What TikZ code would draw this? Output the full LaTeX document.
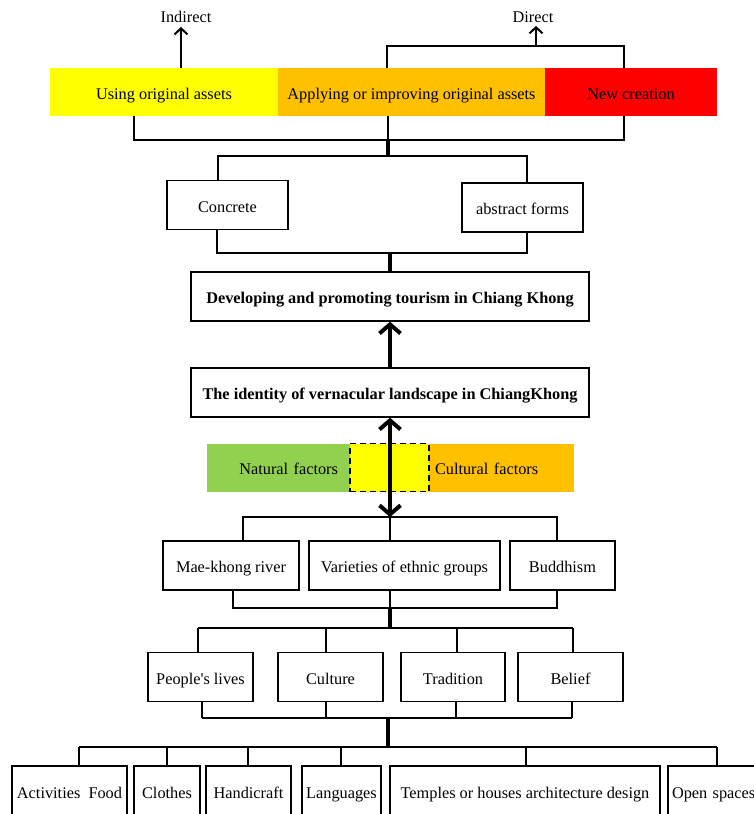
\documentclass[tikz,border=0pt]{standalone}
\usepackage{fontspec}
\setmainfont{Liberation Serif}
\usetikzlibrary{arrows.meta, positioning}
\definecolor{tyellow}{HTML}{FFFF00}
\definecolor{torange}{HTML}{FFC000}
\definecolor{tred}{HTML}{FF0000}
\definecolor{tgreen}{HTML}{92D050}
\tikzset{box/.style={draw, line width=1.5pt, minimum height=49, inner sep=0pt, text height=15pt, text depth=1pt},
    band/.style={minimum height=48, inner sep=0pt, text height=15pt, text depth=1pt},
    link/.style={line width=1.3pt},
    trunk/.style={line width=4pt},
    thinarrow/.style={line width=2pt, -{Straight Barb[length=6pt,width=13pt]}},
    bigarrow/.style={line width=4pt, -{Straight Barb[length=9pt,width=21pt]}},
    dblarrow/.style={line width=4pt, {Straight Barb[length=9pt,width=21pt]}-{Straight Barb[length=9pt,width=21pt]}}}

\begin{document}
\begin{tikzpicture}[x=1pt, y=-1pt, font=\fontsize{16.3}{19}\selectfont]
        \useasboundingbox (0,0) rectangle (754,814);
        \clip (0,0) rectangle (754,814);

        % ways of use
        \node[band, fill=tyellow, minimum width=228] (using) at (164,92) {Using original assets};
        \node[band, fill=torange, minimum width=267] (apply) at (411.5,92) {Applying or improving original assets};
        \node[band, fill=tred, minimum width=172] (newc) at (631,92) {New creation};
        \node (indirect) at (186,17) {Indirect};
        \node (direct) at (533,17) {Direct};

        \coordinate (ind) at (181,27);
        \draw[thinarrow] (using.north -| ind) -- (ind);
        \coordinate (dirl) at (387,46);
        \coordinate (dirr) at (624,46);
        \coordinate (dirm) at (536,46);
        \draw[link] (apply.north -| dirl) -- (dirl) -- (dirr) -- (newc.north -| dirr);
        \draw[thinarrow] (dirm) -- (direct.south -| dirm);

        % forms
        \node[box, minimum width=121] (concrete) at (227.5,205) {Concrete};
        \node[box, minimum width=121] (abstract) at (522.5,207.5) {abstract forms};
        \node[box, minimum width=398, font=\fontsize{16.3}{19}\selectfont\bfseries] (developing) at (390,296.5) {Developing and promoting tourism in Chiang Khong};
        \node[box, minimum width=398, font=\fontsize{16.3}{19}\selectfont\bfseries] (identity) at (390,392.5) {The identity of vernacular landscape in ChiangKhong};

        \coordinate (outl) at (134,140);
        \coordinate (outr) at (624,140);
        \coordinate (outm) at (388,140);
        \draw[link] (using.south -| outl) -- (outl) -- (outr) -- (newc.south -| outr);
        \draw[link] (apply.south -| outm) -- (outm);
        \coordinate (forml) at (218,156);
        \coordinate (formr) at (527,156);
        \draw[trunk] (outm) -- (outm |- forml);
        \draw[link] (concrete.north -| forml) -- (forml) -- (formr) -- (abstract.north -| formr);
        \coordinate (backl) at (217,253);
        \coordinate (backr) at (527,253);
        \draw[link] (concrete.south -| backl) -- (backl) -- (backr) -- (abstract.south -| backr);
        \draw[trunk] (developing.north) -- (developing.north |- backl);
        \draw[bigarrow] (identity.north) -- (developing.south);

        % factors
        \node[band, fill=tgreen, inner xsep=12, text width=119, align=right] (natural) at (278.5,467.5) {Natural factors};
        \node[band, fill=torange, inner xsep=6, text width=133, align=left] (cultural) at (501.5,467.5) {Cultural factors};
        \node[band, fill=tyellow, draw, dash pattern=on 6pt off 4pt, line width=1.3pt, minimum width=79] (both) at (389.5,467.5) {};

        \coordinate (hubA) at (390,517);
        \draw[dblarrow] (identity.south) -- (hubA);

        % sources
        \node[box, minimum width=136] (river) at (231,565.5) {Mae-khong river};
        \node[box, minimum width=191] (varieties) at (404.5,565.5) {Varieties of ethnic groups};
        \node[box, minimum width=105] (buddhism) at (562.5,565.5) {Buddhism};

        \coordinate (srcl) at (243,517);
        \coordinate (srcr) at (557,517);
        \draw[link] (river.north -| srcl) -- (srcl) -- (srcr) -- (buddhism.north -| srcr);
        \draw[link] (hubA) -- (varieties.north -| hubA);
        \coordinate (srcbl) at (233,608);
        \coordinate (srcbr) at (557,608);
        \coordinate (hubB) at (390,608);
        \draw[link] (river.south -| srcbl) -- (srcbl) -- (srcbr) -- (buddhism.south -| srcbr);
        \draw[link] (varieties.south -| hubB) -- (hubB);
        \coordinate (lifel) at (198,628);
        \coordinate (lifer) at (573,628);
        \draw[trunk] (hubB) -- (hubB |- lifel);
        \draw[link] (lifel) -- (lifer);

        % ways of life
        \node[box, minimum width=105] (people) at (200.5,677) {People\textquotesingle s lives};
        \node[box, minimum width=105] (culture) at (330.5,677) {Culture};
        \node[box, minimum width=104] (tradition) at (453,677) {Tradition};
        \node[box, minimum width=105] (belief) at (570.5,677) {Belief};

        \foreach \n/\x in {people/198, culture/326, tradition/457, belief/573}
            \draw[link] (\n.north -| \x,628) -- (\x,628);
        \foreach \n/\x in {people/202, culture/326, tradition/456, belief/572}
            \draw[link] (\n.south -| \x,718) -- (\x,718);
        \coordinate (lifebl) at (202,718);
        \coordinate (lifebr) at (572,718);
        \coordinate (hubC) at (388,718);
        \draw[link] (lifebl) -- (lifebr);
        \coordinate (itemm) at (388,747);
        \draw[trunk] (hubC) -- (itemm);
        \coordinate (iteml) at (79,747);
        \coordinate (itemr) at (717,747);
        \draw[link] (iteml) -- (itemr);

        % elements
        \foreach \n/\x/\w/\t in {act/69.5/115/{Activities\ \ Food}, clo/167/66/Clothes,
                han/248.5/85/Handicraft, lan/341.5/79/Languages,
                tem/525/270/{Temples or houses architecture design}}
            \node[box, minimum width=\w, minimum height=52, anchor=north] (\n) at (\x,765) {\t};
        \node[box, minimum height=52, inner xsep=4, text width=90, align=left, anchor=north] (opn) at (717,765) {Open spaces};
        \foreach \n/\x in {act/79, clo/167, han/248, lan/341, tem/526, opn/717}
            \draw[link] (\n.north -| \x,747) -- (\x,747);
\end{tikzpicture}
\end{document}
